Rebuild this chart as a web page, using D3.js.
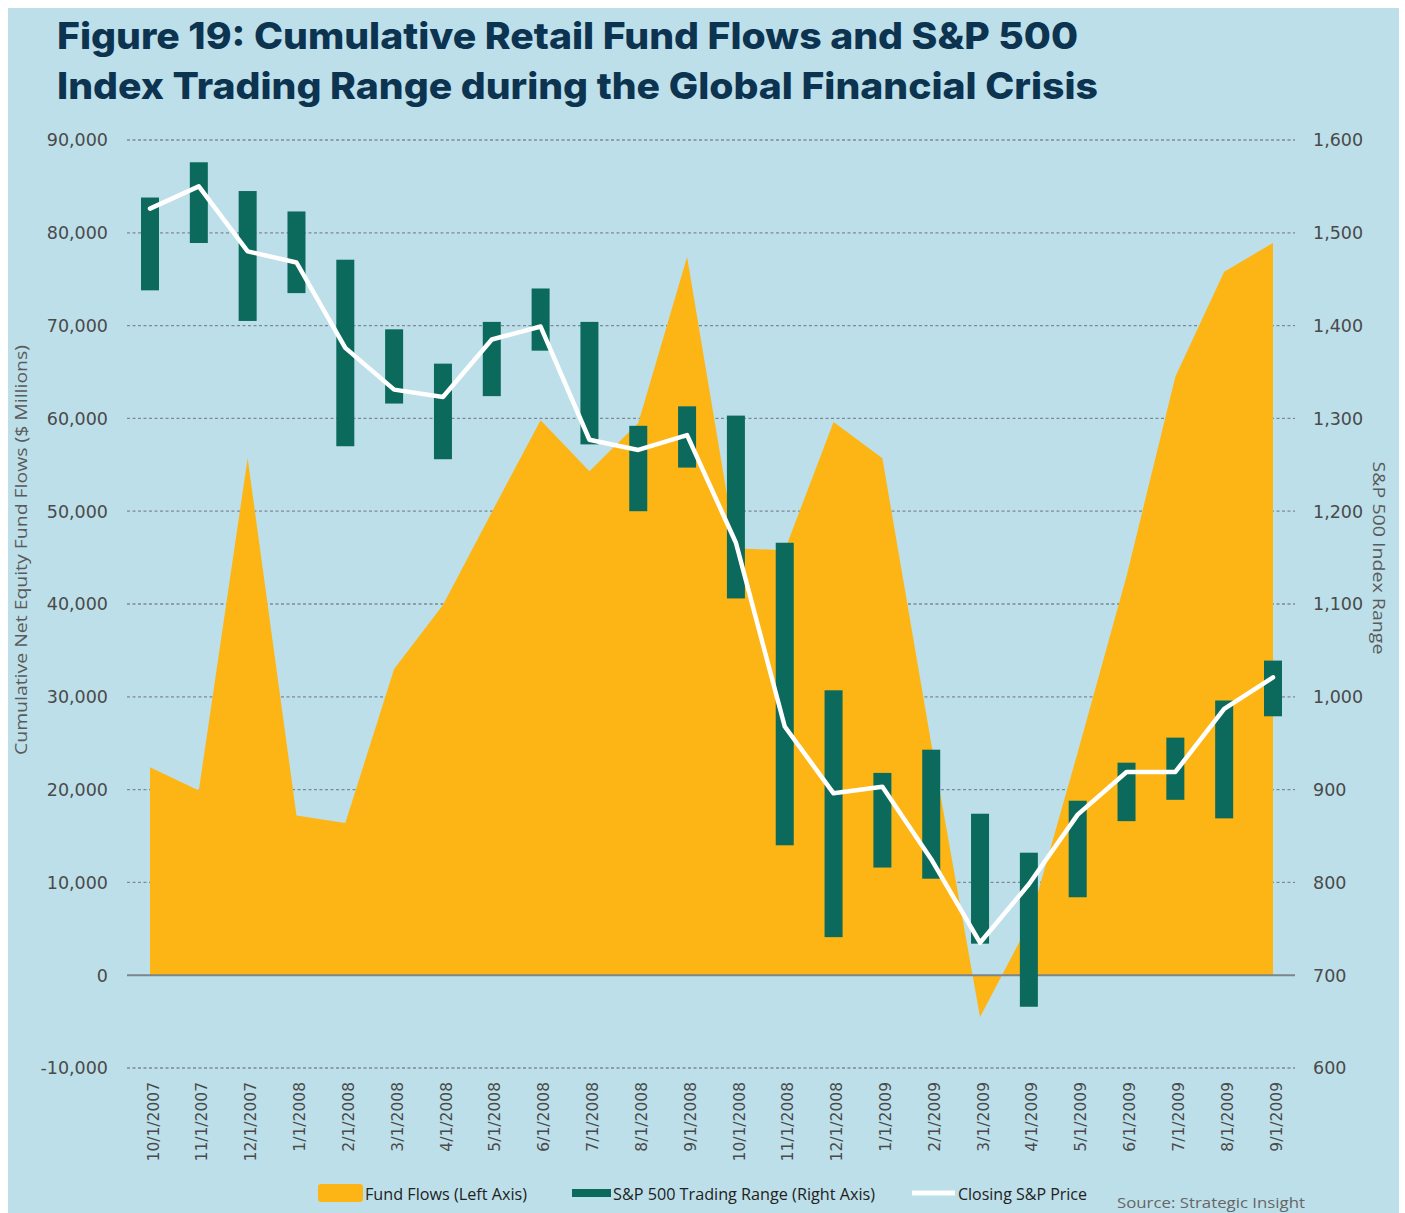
<!DOCTYPE html>
<html>
<head>
<meta charset="utf-8">
<script src="https://cdn.jsdelivr.net/npm/d3@7"></script>
<style>
  html, body { margin: 0; padding: 0; background: #ffffff; }
  svg { display: block; }
</style>
</head>
<body>
<svg id="chart" width="1405" height="1213"></svg>
<script>
// ---------- Data ----------
const dates = ["10/1/2007","11/1/2007","12/1/2007","1/1/2008","2/1/2008","3/1/2008","4/1/2008","5/1/2008",
  "6/1/2008","7/1/2008","8/1/2008","9/1/2008","10/1/2008","11/1/2008","12/1/2008","1/1/2009",
  "2/1/2009","3/1/2009","4/1/2009","5/1/2009","6/1/2009","7/1/2009","8/1/2009","9/1/2009"];

// Cumulative net equity fund flows ($ millions), left axis
const fundFlows = [22400, 19900, 55700, 17200, 16400, 33000, 39900, 49900,
  59800, 54300, 59500, 77400, 46000, 45800, 59600, 55700,
  25000, -4500, 5500, 24000, 43000, 64500, 75800, 78900];

// S&P 500 trading range (right axis)
const spHigh = [1538, 1576, 1545, 1523, 1471, 1396, 1359, 1404,
  1440, 1404, 1292, 1313, 1303, 1166, 1007, 918,
  943, 874, 832, 888, 929, 956, 996, 1039];
const spLow = [1438, 1489, 1405, 1435, 1270, 1316, 1256, 1324,
  1373, 1272, 1200, 1247, 1106, 840, 741, 816,
  804, 734, 666, 784, 866, 889, 869, 979];
const spClose = [1526, 1550, 1480, 1468, 1376, 1331, 1323, 1385,
  1399, 1277, 1266, 1282, 1166, 968, 896, 903,
  825, 735, 798, 873, 919, 919, 987, 1021];

const leftTicks = [-10000, 0, 10000, 20000, 30000, 40000, 50000, 60000, 70000, 80000, 90000];
const rightTicks = [600, 700, 800, 900, 1000, 1100, 1200, 1300, 1400, 1500, 1600];

const titleLines = ["Figure 19: Cumulative Retail Fund Flows and S&P 500",
  "Index Trading Range during the Global Financial Crisis"];

// ---------- Setup ----------
const svg = d3.select("#chart");
const C = {
  bg: "#bddfe9", area: "#fcb514", bar: "#0b6a5b", title: "#0c3350",
  grid: "#7d8a93", text: "#4a4a4a"
};
const fmt = v => d3.format(",")(v).replace("\u2212", "-");

svg.append("rect").attr("x", 8).attr("y", 8).attr("width", 1391).attr("height", 1205).attr("fill", C.bg);

const x = d3.scalePoint().domain(dates).range([150, 1273]);
const yL = d3.scaleLinear().domain([-10000, 90000]).range([1068, 140]);
const yR = d3.scaleLinear().domain([600, 1600]).range([1068, 140]);

const gridX0 = 127, gridX1 = 1295;

// Title
svg.selectAll("text.title").data(titleLines).enter().append("text")
  .attr("class", "title")
  .attr("x", 57)
  .attr("y", (d, i) => 49 + i * 50)
  .attr("font-family", "Inter, 'DejaVu Sans', sans-serif")
  .attr("font-weight", 800)
  .attr("font-size", 37)
  .attr("fill", C.title)
  .attr("textLength", (d, i) => i === 0 ? 1021 : 1041)
  .attr("lengthAdjust", "spacingAndGlyphs")
  .text(d => d);

// Grid lines (dashed)
svg.append("g").selectAll("line").data(leftTicks.filter(d => d !== 0)).enter().append("line")
  .attr("x1", gridX0).attr("x2", gridX1)
  .attr("y1", d => yL(d)).attr("y2", d => yL(d))
  .attr("stroke", C.grid).attr("stroke-width", 1.3)
  .attr("stroke-dasharray", "3,2.5");

// Fund flow area
const area = d3.area()
  .x((d, i) => x(dates[i]))
  .y0(yL(0))
  .y1(d => yL(d));
svg.append("path").datum(fundFlows)
  .attr("d", area)
  .attr("fill", C.area);

// zero line
svg.append("line")
  .attr("x1", gridX0).attr("x2", gridX1)
  .attr("y1", yL(0)).attr("y2", yL(0))
  .attr("stroke", "#7b858c").attr("stroke-width", 2);

// Trading range bars
const bw = 18;
svg.append("g").selectAll("rect").data(dates).enter().append("rect")
  .attr("x", d => x(d) - bw / 2)
  .attr("width", bw)
  .attr("y", (d, i) => yR(spHigh[i]))
  .attr("height", (d, i) => yR(spLow[i]) - yR(spHigh[i]))
  .attr("fill", C.bar);

// Closing line
const line = d3.line().x((d, i) => x(dates[i])).y(d => yR(d));
svg.append("path").datum(spClose)
  .attr("d", line)
  .attr("fill", "none")
  .attr("stroke", "#ffffff")
  .attr("stroke-width", 4.5)
  .attr("stroke-linejoin", "round")
  .attr("stroke-linecap", "round");

// Left axis labels
svg.append("g").selectAll("text").data(leftTicks).enter().append("text")
  .attr("x", 108).attr("y", d => yL(d)).attr("dy", "0.36em")
  .attr("text-anchor", "end")
  .attr("font-family", "'DejaVu Sans', sans-serif")
  .attr("font-size", 17.5)
  .attr("fill", C.text)
  .text(d => fmt(d));

// Right axis labels
svg.append("g").selectAll("text").data(rightTicks).enter().append("text")
  .attr("x", 1313).attr("y", d => yR(d)).attr("dy", "0.36em")
  .attr("text-anchor", "start")
  .attr("font-family", "'DejaVu Sans', sans-serif")
  .attr("font-size", 17.5)
  .attr("fill", C.text)
  .text(d => fmt(d));

// Axis titles
svg.append("text")
  .attr("transform", "translate(27,550) rotate(-90)")
  .attr("text-anchor", "middle")
  .attr("font-family", "'Open Sans', sans-serif")
  .attr("font-size", 17)
  .attr("fill", "#5a5a5a")
  .attr("textLength", 410).attr("lengthAdjust", "spacingAndGlyphs")
  .text("Cumulative Net Equity Fund Flows ($ Millions)");

svg.append("text")
  .attr("transform", "translate(1373,558) rotate(90)")
  .attr("text-anchor", "middle")
  .attr("font-family", "'Open Sans', sans-serif")
  .attr("font-size", 17)
  .attr("fill", "#5a5a5a")
  .attr("textLength", 193).attr("lengthAdjust", "spacingAndGlyphs")
  .text("S&P 500 Index Range");

// X labels
svg.append("g").selectAll("text").data(dates).enter().append("text")
  .attr("transform", d => `translate(${x(d) + 3},1082) rotate(-90)`)
  .attr("dy", "0.36em")
  .attr("text-anchor", "end")
  .attr("font-family", "'DejaVu Sans', sans-serif")
  .attr("font-size", 15.5)
  .attr("fill", C.text)
  .text(d => d);

// Legend
const lg = svg.append("g");
const legendFont = "'Open Sans', sans-serif";
lg.append("rect").attr("x", 318).attr("y", 1184).attr("width", 45).attr("height", 18).attr("rx", 3).attr("fill", C.area);
lg.append("text").attr("x", 365).attr("y", 1200).attr("font-family", legendFont).attr("font-size", 17)
  .attr("fill", "#222").attr("textLength", 162).attr("lengthAdjust", "spacingAndGlyphs").text("Fund Flows (Left Axis)");
lg.append("rect").attr("x", 572).attr("y", 1189).attr("width", 39).attr("height", 8).attr("fill", C.bar);
lg.append("text").attr("x", 613).attr("y", 1200).attr("font-family", legendFont).attr("font-size", 17)
  .attr("fill", "#222").attr("textLength", 262).attr("lengthAdjust", "spacingAndGlyphs").text("S&P 500 Trading Range (Right Axis)");
lg.append("line").attr("x1", 912).attr("x2", 955).attr("y1", 1193).attr("y2", 1193)
  .attr("stroke", "#ffffff").attr("stroke-width", 5);
lg.append("text").attr("x", 958).attr("y", 1200).attr("font-family", legendFont).attr("font-size", 17)
  .attr("fill", "#222").attr("textLength", 129).attr("lengthAdjust", "spacingAndGlyphs").text("Closing S&P Price");

svg.append("text").attr("x", 1117).attr("y", 1208).attr("font-family", legendFont).attr("font-size", 15)
  .attr("fill", "#666").attr("textLength", 188).attr("lengthAdjust", "spacingAndGlyphs").text("Source: Strategic Insight");
</script>
</body>
</html>
